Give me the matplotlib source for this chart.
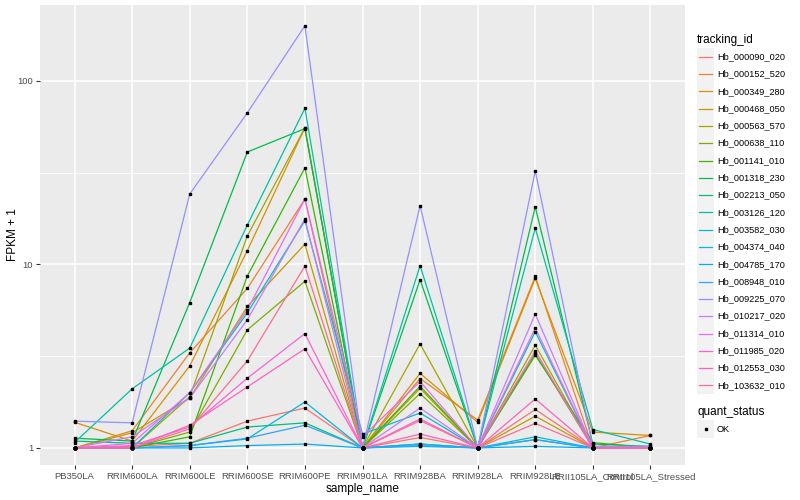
import numpy as np
import matplotlib
matplotlib.use("Agg")
import matplotlib.pyplot as plt
from matplotlib.lines import Line2D
from matplotlib.patches import Rectangle

plt.rcParams['font.family'] = ['Liberation Sans', 'DejaVu Sans']

samples = ['PB350LA', 'RRIM600LA', 'RRIM600LE', 'RRIM600SE', 'RRIM600PE',
           'RRIM901LA', 'RRIM928BA', 'RRIM928LA', 'RRIM928LE',
           'RRII105LA_Control', 'RRII105LA_Stressed']

tracking_ids = ['Hb_000090_020', 'Hb_000152_520', 'Hb_000349_280', 'Hb_000468_050',
                'Hb_000563_570', 'Hb_000638_110', 'Hb_001141_010', 'Hb_001318_230',
                'Hb_002213_050', 'Hb_003126_120', 'Hb_003582_030', 'Hb_004374_040',
                'Hb_004785_170', 'Hb_008948_010', 'Hb_009225_070', 'Hb_010217_020',
                'Hb_011314_010', 'Hb_011985_020', 'Hb_012553_030', 'Hb_103632_010']

colors = ['#F8766D', '#EA8331', '#D89000', '#C09B00', '#A3A500', '#7CAE00',
          '#39B600', '#00BB4E', '#00BF7D', '#00C1A3', '#00BFC4', '#00BAE0',
          '#00B0F6', '#35A2FF', '#9590FF', '#C77CFF', '#E76BF3', '#FA62DB',
          '#FF62BC', '#FF6C91']

# FPKM + 1, one row per tracking_id, columns follow samples
fpkm = [
    [1.00, 1.02, 1.06, 1.40, 1.65, 1.00, 1.14, 1.00, 1.62, 1.00, 1.00],
    [1.00, 1.24, 3.30, 7.40, 22.7, 1.00, 2.39, 1.42, 8.60, 1.00, 1.17],
    [1.38, 1.09, 2.80, 11.9, 55.5, 1.00, 2.55, 1.38, 8.40, 1.22, 1.17],
    [1.00, 1.21, 1.87, 5.90, 12.9, 1.00, 2.11, 1.00, 1.49, 1.00, 1.00],
    [1.00, 1.00, 1.90, 14.3, 55.5, 1.00, 3.69, 1.00, 3.63, 1.00, 1.00],
    [1.00, 1.00, 1.22, 4.40, 8.10, 1.00, 1.98, 1.00, 3.28, 1.00, 1.00],
    [1.00, 1.00, 1.15, 8.65, 33.6, 1.00, 2.17, 1.00, 3.20, 1.07, 1.00],
    [1.13, 1.09, 6.20, 41.0, 55.0, 1.00, 8.26, 1.00, 20.6, 1.05, 1.02],
    [1.09, 1.06, 1.06, 1.30, 1.37, 1.00, 1.05, 1.00, 1.11, 1.00, 1.00],
    [1.07, 2.10, 3.50, 16.4, 71.0, 1.00, 9.85, 1.00, 15.8, 1.26, 1.05],
    [1.00, 1.00, 2.00, 5.45, 17.3, 1.19, 1.55, 1.00, 4.30, 1.00, 1.00],
    [1.00, 1.00, 1.03, 1.12, 1.78, 1.00, 1.05, 1.00, 1.15, 1.00, 1.00],
    [1.00, 1.00, 1.00, 1.03, 1.05, 1.00, 1.02, 1.00, 1.02, 1.00, 1.00],
    [1.00, 1.00, 1.03, 1.13, 1.33, 1.00, 1.03, 1.00, 1.11, 1.00, 1.00],
    [1.40, 1.37, 24.2, 67.0, 200., 1.00, 20.9, 1.00, 32.3, 1.02, 1.02],
    [1.00, 1.15, 1.87, 5.00, 17.7, 1.00, 1.65, 1.00, 5.37, 1.00, 1.00],
    [1.00, 1.06, 2.00, 5.65, 22.7, 1.15, 2.30, 1.00, 4.50, 1.00, 1.00],
    [1.00, 1.03, 1.30, 2.40, 4.20, 1.00, 1.44, 1.00, 3.38, 1.00, 1.00],
    [1.00, 1.00, 1.33, 2.15, 3.47, 1.00, 1.19, 1.00, 1.85, 1.00, 1.00],
    [1.00, 1.00, 1.27, 2.98, 9.80, 1.00, 1.41, 1.00, 1.36, 1.00, 1.00],
]

W, H = 800, 500
fig = plt.figure(figsize=(8, 5), dpi=100)
ax = fig.add_axes([40 / W, 1 - 465 / H, 645 / W, 460 / H])
ax.set_facecolor('#EBEBEB')
for s in ax.spines.values():
    s.set_visible(False)

x = np.arange(len(samples))
for vals, c in zip(fpkm, colors):
    ax.plot(x, vals, color=c, lw=0.9, zorder=3)
for vals in fpkm:
    ax.plot(x, vals, 's', color='black', ms=2.1, zorder=4)

ax.set_yscale('log')
ax.set_ylim(10 ** -0.093, 10 ** 2.414)
ax.set_xlim(-0.6, len(samples) - 0.4)
ax.set_yticks([1, 10, 100])
ax.set_yticklabels(['1', '10', '100'])
ax.set_yticks([10 ** 0.5, 10 ** 1.5], minor=True)
ax.yaxis.set_minor_formatter(matplotlib.ticker.NullFormatter())
ax.set_xticks(x)
ax.set_xticklabels(samples)

ax.grid(True, which='major', color='white', lw=1.1, zorder=0)
ax.grid(True, which='minor', axis='y', color='white', lw=0.55, zorder=0)
ax.set_axisbelow(True)
ax.tick_params(axis='both', which='major', length=3, width=0.8, color='#333333',
               labelsize=6.8, labelcolor='#4D4D4D', pad=2)
ax.tick_params(axis='y', which='minor', length=0)

ax.set_xlabel('sample_name', fontsize=8.5, color='black')
ax.set_ylabel('FPKM + 1', fontsize=8.5, color='black')
ax.xaxis.set_label_coords(0.5, -(483 - 465) / 460)
ax.yaxis.set_label_coords(-(40 - 19) / 645, 0.5)

# legends
fig.text(697 / W, 1 - 40 / H, 'tracking_id', fontsize=8.5, va='center', ha='left')
y0, dy = 56.7, 17.3
for i, (name, c) in enumerate(zip(tracking_ids, colors)):
    yc = y0 + i * dy
    fig.patches.append(Rectangle((697 / W, 1 - (yc + 8.6) / H), 17.3 / W, 17.3 / H,
                                 transform=fig.transFigure, facecolor='#F2F2F2',
                                 edgecolor='none'))
    fig.lines.append(Line2D([699 / W, 712 / W], [1 - yc / H, 1 - yc / H],
                            transform=fig.transFigure, color=c, lw=0.9))
    fig.text(717 / W, 1 - yc / H, name, fontsize=6.6, va='center', ha='left')

fig.text(697 / W, 1 - 412 / H, 'quant_status', fontsize=8.5, va='center', ha='left')
yc = 429
fig.patches.append(Rectangle((697 / W, 1 - (yc + 8.6) / H), 17.3 / W, 17.3 / H,
                             transform=fig.transFigure, facecolor='#F2F2F2',
                             edgecolor='none'))
fig.lines.append(Line2D([705.5 / W], [1 - yc / H], transform=fig.transFigure,
                        marker='s', color='black', ms=2.1, lw=0))
fig.text(717 / W, 1 - yc / H, 'OK', fontsize=6.6, va='center', ha='left')

fig.savefig('out.png', dpi=100)
